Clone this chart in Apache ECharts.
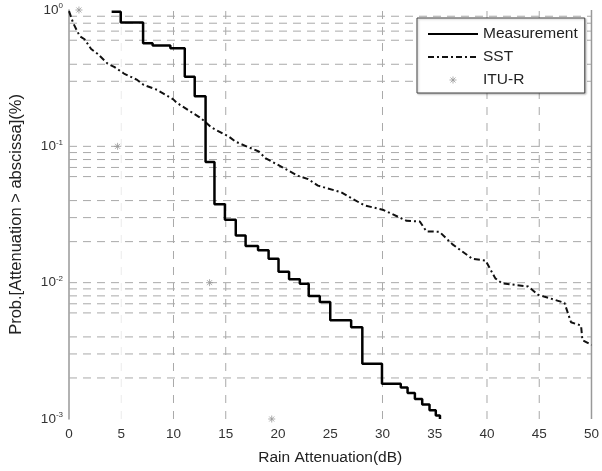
<!DOCTYPE html>
<html>
<head>
<meta charset="utf-8">
<script src="https://cdn.jsdelivr.net/npm/echarts@6/dist/echarts.min.js"></script>
<style>
html, body { margin: 0; padding: 0; background: #fff; }
#chart { width: 602px; height: 471px; }
</style>
</head>
<body>
<div id="chart"></div>
<script>
// measured curve (step levels: attenuation where level starts, probability)
var measAtt  = [4.08, 4.95, 7.09, 8.0, 9.7, 11.08, 12.03, 13.07, 13.92, 14.92, 15.96, 16.9, 18.09, 19.1, 20.05, 21.06, 22.09, 22.94, 24.0, 25.0, 27.0, 28.07, 29.95, 31.75, 32.4, 33.1, 33.8, 34.5, 35.1, 35.5];
var measProb = [0.972, 0.811, 0.571, 0.55, 0.525, 0.324, 0.233, 0.0768, 0.0376, 0.029, 0.0222, 0.0186, 0.0173, 0.015, 0.012, 0.0106, 0.0098, 0.008, 0.0072, 0.0053, 0.0047, 0.00254, 0.00181, 0.0017, 0.00155, 0.0014, 0.00128, 0.00116, 0.00106, 0.001];

// SST model
var sstAtt  = [0, 0.4, 0.55, 1.02, 1.49, 2.12, 2.75, 3.7, 4.32, 5.26, 6.53, 7.15, 8.42, 9.98, 10.3, 12.5, 12.97, 13.6, 15.33, 15.96, 18.16, 18.79, 21.93, 22.88, 23.82, 26.02, 28.23, 30.11, 32.31, 33.57, 34.2, 35.45, 36.7, 38.6, 39.86, 40.8, 41.43, 43.94, 44.89, 47.41, 48.04, 49.0, 49.13, 50];
var sstProb = [0.98, 0.803, 0.781, 0.644, 0.61, 0.517, 0.476, 0.404, 0.383, 0.342, 0.307, 0.282, 0.26, 0.221, 0.209, 0.163, 0.153, 0.138, 0.1173, 0.108, 0.0916, 0.082, 0.0607, 0.0575, 0.0515, 0.0461, 0.037, 0.0341, 0.0284, 0.0281, 0.0238, 0.0236, 0.0191, 0.01495, 0.01454, 0.01075, 0.0099, 0.00937, 0.00816, 0.00712, 0.00512, 0.00485, 0.00379, 0.00349];

// ITU-R prediction
var ituAtt  = [0.95, 4.65, 13.45, 19.4];
var ituProb = [1, 0.1, 0.01, 0.001];

// grid lines that show in the picture
var gridProb = [0.9, 0.8, 0.7, 0.6, 0.4, 0.3, 0.1, 0.09, 0.08, 0.07, 0.06, 0.04, 0.03, 0.02, 0.01, 0.009, 0.008, 0.007, 0.006, 0.004, 0.003, 0.002];
var gridAtt = [10, 15, 30, 40, 45];
var faintAtt = [5];
var borderAtt = [50];
var xRange = [0, 50];
var yRange = [0.001, 1];

function pairs(xs, ys) {
  var out = [];
  for (var i = 0; i < xs.length; i++) out.push([xs[i], ys[i]]);
  return out;
}
// one polyline per grid value, broken by empty points
function hLines(vals) {
  var out = [];
  vals.forEach(function (v) { out.push([xRange[0], v], [xRange[1], v], [xRange[1], '-']); });
  return out;
}
function vLines(vals) {
  var out = [];
  vals.forEach(function (v) { out.push([v, yRange[0]], [v, yRange[1]], [v, '-']); });
  return out;
}
function gridSeries(name, data, style) {
  return {
    name: name, type: 'line', z: 1, silent: true, data: data,
    showSymbol: false, symbol: 'none', connectNulls: false, clip: false,
    lineStyle: style
  };
}

var star = 'path://M-7,-7M7,7M0,-3.5L0,3.5M-3.5,0L3.5,0M-2.5,-2.5L2.5,2.5M-2.5,2.5L2.5,-2.5';
var starStyle = { color: 'transparent', borderColor: '#999', borderWidth: 1 };

var chart = echarts.init(document.getElementById('chart'));
var option = {
  animation: false,
  backgroundColor: '#fff',
  textStyle: { fontFamily: 'Liberation Sans, Arial, sans-serif' },
  grid: { left: 68, right: 4, top: 10, bottom: 42 },
  legend: {
    data: [
      { name: 'Measurement', itemStyle: { opacity: 0 } },
      { name: 'SST', itemStyle: { opacity: 0 } },
      { name: 'ITU-R', icon: star, itemStyle: starStyle }
    ],
    orient: 'vertical',
    left: 417,
    top: 18,
    padding: [8, 7, 5, 10],
    itemWidth: 50,
    itemHeight: 14,
    itemGap: 7,
    backgroundColor: '#fff',
    borderColor: '#444',
    borderWidth: 1,
    shadowColor: 'rgba(0,0,0,0.25)',
    shadowBlur: 2,
    shadowOffsetX: 1,
    shadowOffsetY: 1,
    textStyle: { fontSize: 15.5, color: '#222' }
  },
  xAxis: {
    type: 'value',
    min: 0,
    max: 50,
    interval: 5,
    name: 'Rain Attenuation(dB)',
    nameLocation: 'middle',
    nameGap: 31,
    nameTextStyle: { fontSize: 15.5, color: '#222' },
    axisLine: { show: false },
    axisTick: { show: false },
    axisLabel: { fontSize: 13.5, color: '#333', margin: 8 },
    splitLine: { show: false }
  },
  yAxis: {
    type: 'log',
    logBase: 10,
    min: 0.001,
    max: 1,
    name: 'Prob.[Attenuation > abscissa](%)',
    nameLocation: 'middle',
    nameGap: 44,
    nameTextStyle: { fontSize: 16.5, color: '#222' },
    axisLine: { show: true, lineStyle: { color: '#999', width: 1.5 } },
    axisTick: { show: false },
    splitLine: { show: false },
    axisLabel: {
      margin: 6,
      formatter: function (v) {
        var e = Math.round(Math.log(v) / Math.LN10);
        return '{b|10}{s|' + e + '}';
      },
      rich: {
        b: { fontSize: 13.5, color: '#333' },
        s: { fontSize: 8, color: '#333', padding: [0, 0, 8, 0] }
      }
    }
  },
  series: [
    gridSeries('gridH', hLines(gridProb), { color: '#a9a9a9', width: 1, type: [8, 6] }),
    gridSeries('gridV', vLines(gridAtt), { color: '#a9a9a9', width: 1, type: [8, 8] }),
    gridSeries('gridFaint', vLines(faintAtt), { color: '#ececec', width: 1, type: [8, 8] }),
    gridSeries('border', vLines(borderAtt), { color: '#999', width: 1.5, type: 'solid' }),
    {
      name: 'SST',
      type: 'line',
      z: 3,
      data: pairs(sstAtt, sstProb),
      symbol: 'none',
      itemStyle: { color: '#111' },
      lineStyle: { color: '#111', width: 2, type: [6, 3, 2, 3] }
    },
    {
      name: 'Measurement',
      type: 'line',
      z: 4,
      step: 'end',
      data: pairs(measAtt, measProb),
      symbol: 'none',
      itemStyle: { color: '#000' },
      lineStyle: { color: '#000', width: 2.5 }
    },
    {
      name: 'ITU-R',
      type: 'scatter',
      z: 5,
      data: pairs(ituAtt, ituProb),
      symbol: star,
      symbolSize: 14,
      clip: false,
      itemStyle: starStyle
    }
  ]
};
chart.setOption(option);
</script>
</body>
</html>
